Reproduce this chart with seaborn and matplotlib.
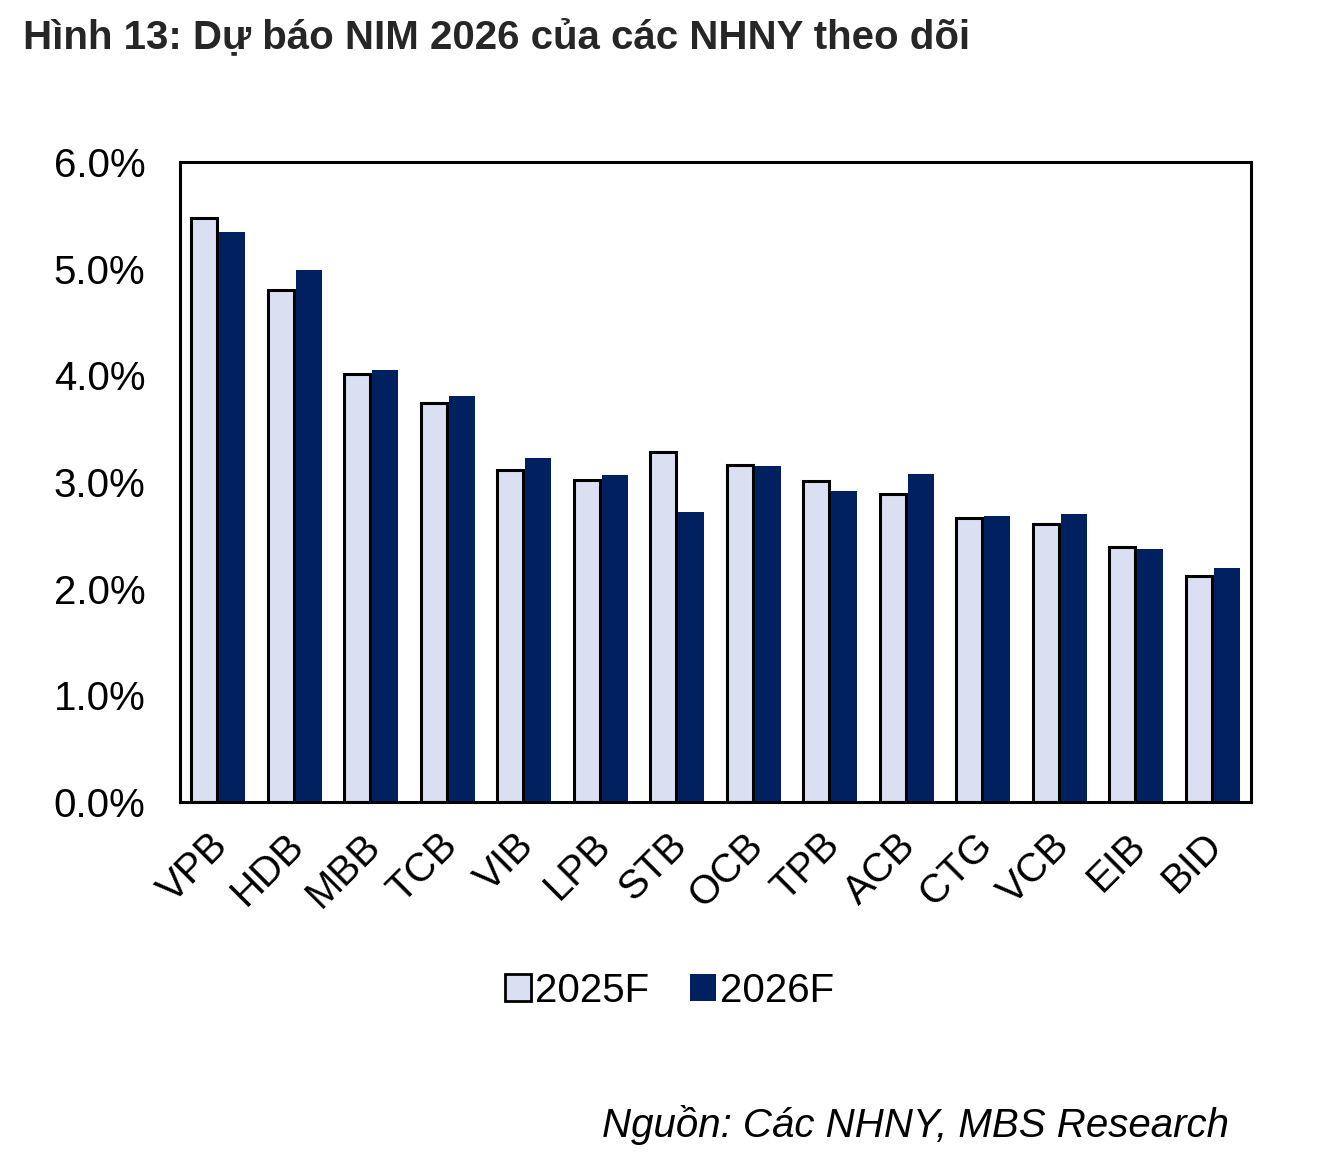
import pandas as pd
import matplotlib.pyplot as plt
import matplotlib.transforms as mtransforms
import seaborn as sns
from matplotlib.ticker import FuncFormatter
from matplotlib.patches import Patch

banks = ['VPB', 'HDB', 'MBB', 'TCB', 'VIB', 'LPB', 'STB', 'OCB', 'TPB', 'ACB', 'CTG', 'VCB', 'EIB', 'BID']
nim2025 = [5.48, 4.80, 4.01, 3.74, 3.11, 3.02, 3.28, 3.16, 3.01, 2.89, 2.66, 2.61, 2.39, 2.12]
nim2026 = [5.34, 4.99, 4.05, 3.81, 3.23, 3.07, 2.72, 3.15, 2.92, 3.08, 2.68, 2.70, 2.37, 2.19]
series = ['2025F', '2026F']
colors = ['#DAE0F2', '#002060']

df = pd.DataFrame({'Bank': banks * 2,
                   'NIM': nim2025 + nim2026,
                   'Year': [series[0]] * len(banks) + [series[1]] * len(banks)})

sns.set_style("white")
plt.rcParams['font.family'] = ['Liberation Sans', 'DejaVu Sans']

fig = plt.figure(figsize=(13.26, 11.6), dpi=100)
ax = fig.add_axes([0.1357, 0.3086, 0.8077, 0.5517])
sns.barplot(data=df, x='Bank', y='NIM', hue='Year', palette=colors, width=0.74, gap=0.08,
            ax=ax, legend=False, saturation=1)

# black outline on 2025F bars only
for bar in ax.containers[0]:
    bar.set_edgecolor('black')
    bar.set_linewidth(2.2)
for bar in ax.containers[1]:
    bar.set_edgecolor('none')

ax.set_ylim(0, 6)
ax.set_yticks([0, 1, 2, 3, 4, 5, 6])
ax.yaxis.set_major_formatter(FuncFormatter(lambda v, p: f'{v:.1f}%'))
ax.set_xlim(-0.5, len(banks) - 0.5)
ax.set_xlabel('')
ax.set_ylabel('')
ax.tick_params(axis='both', length=0, labelsize=29, colors='black', labelcolor='black')
ax.tick_params(axis='y', pad=25)
ax.tick_params(axis='x', pad=10)
shift = mtransforms.ScaledTranslation(-0.1, -0.1, fig.dpi_scale_trans)
for lbl in ax.get_xticklabels():
    lbl.set_rotation(45)
    lbl.set_ha('right')
    lbl.set_rotation_mode('anchor')
    lbl.set_transform(lbl.get_transform() + shift)
for s in ax.spines.values():
    s.set_visible(True)
    s.set_color('black')
    s.set_linewidth(2.2)

handles = [Patch(facecolor=colors[0], edgecolor='black', linewidth=2, label=series[0]),
           Patch(facecolor=colors[1], edgecolor='none', label=series[1])]
leg = fig.legend(handles=handles, loc='center', bbox_to_anchor=(0.505, 0.146), ncol=2, frameon=False,
                 fontsize=29, handlelength=0.65, handleheight=0.65, handletextpad=0.1, columnspacing=1.0)
for t in leg.get_texts():
    t.set_color('black')

fig.text(0.017, 0.968, 'Hình 13: Dự báo NIM 2026 của các NHNY theo dõi', fontsize=29,
         fontweight='bold', color='#262626', va='center', ha='left')
fig.text(0.927, 0.03, 'Nguồn: Các NHNY, MBS Research', fontsize=29, style='italic',
         color='black', va='center', ha='right')

plt.savefig('out.png', dpi=100)
plt.close()
